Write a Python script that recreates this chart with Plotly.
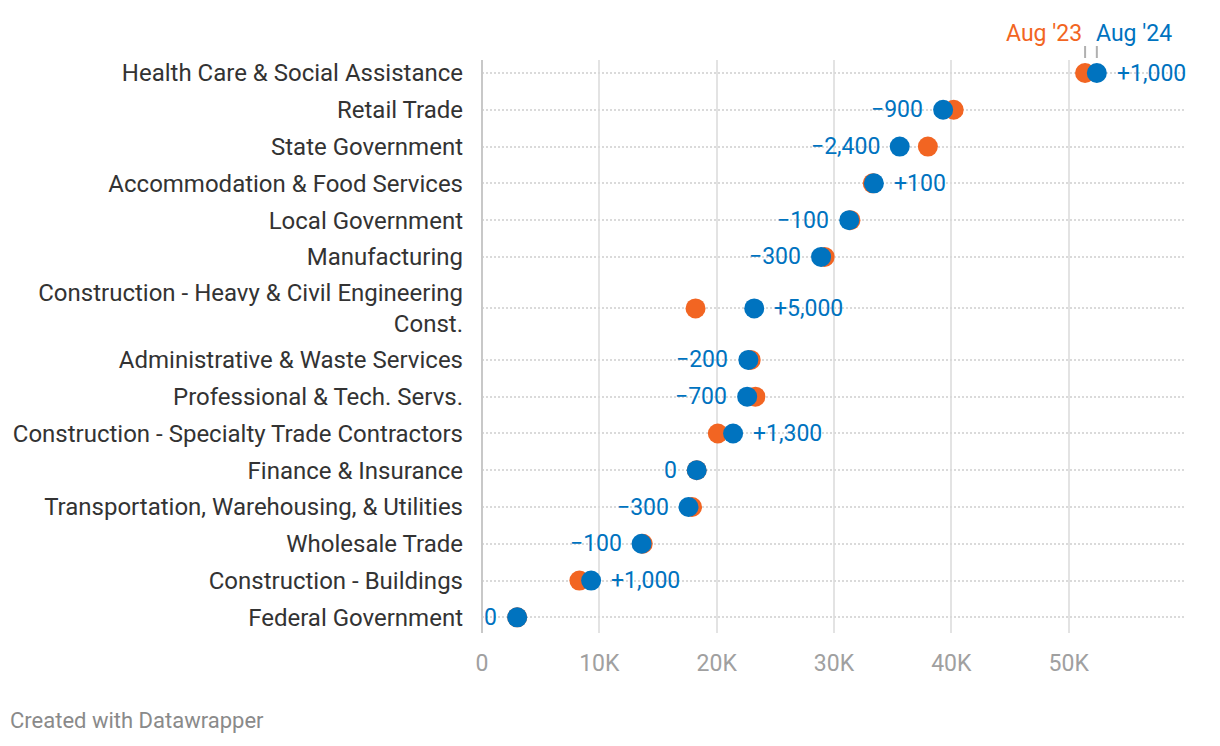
import plotly.graph_objects as go

# ---------------- data ----------------
categories = [
    "Health Care & Social Assistance",
    "Retail Trade",
    "State Government",
    "Accommodation & Food Services",
    "Local Government",
    "Manufacturing",
    "Construction - Heavy & Civil Engineering<br>Const.",
    "Administrative & Waste Services",
    "Professional & Tech. Servs.",
    "Construction - Specialty Trade Contractors",
    "Finance & Insurance",
    "Transportation, Warehousing, & Utilities",
    "Wholesale Trade",
    "Construction - Buildings",
    "Federal Government",
]
aug23 = [51400, 40200, 38000, 33300, 31400, 29200, 18200, 22900, 23300, 20100, 18300, 17900, 13700, 8300, 3000]
aug24 = [52400, 39300, 35600, 33400, 31300, 28900, 23200, 22700, 22600, 21400, 18300, 17600, 13600, 9300, 3000]
changes = [1000, -900, -2400, 100, -100, -300, 5000, -200, -700, 1300, 0, -300, -100, 1000, 0]
series_names = ["Aug '23", "Aug '24"]
x_tickvals = [0, 10000, 20000, 30000, 40000, 50000]
x_ticktext = ["0", "10K", "20K", "30K", "40K", "50K"]

# ---------------- style ----------------
ORANGE = "#f26522"
BLUE = "#0073bf"
FONT = "Roboto"

W, H = 1220, 746

# row positions derived from number of label lines (two-line rows are taller)
ypos = []
cur = 0.0
for c in categories:
    lines = c.count("<br>") + 1
    h = 1 + 0.8 * (lines - 1)
    ypos.append(cur + h / 2)
    cur += h

PLOT_T = 60
PLOT_B = H - 633
PLOT_L = 482
PLOT_R = W - 1186
plot_h = H - PLOT_T - PLOT_B
plot_w = W - PLOT_L - PLOT_R
top = ypos[0] - 0.354
px_per_unit = 36.78
bottom = top + plot_h / px_per_unit


def fmt(v):
    if v == 0:
        return "0"
    s = f"{v:+,}"
    return s.replace("-", "\u2212")


def py(px):
    """pixel y -> paper coordinate"""
    return (H - PLOT_B - px) / plot_h


def pxx(px):
    """pixel x -> paper coordinate"""
    return (px - PLOT_L) / plot_w


fig = go.Figure()
fig.add_trace(go.Scatter(
    x=aug23, y=ypos, mode="markers", name=series_names[0],
    marker=dict(color=ORANGE, size=20, line=dict(width=0)),
    hoverinfo="skip", cliponaxis=False,
))
fig.add_trace(go.Scatter(
    x=aug24, y=ypos, mode="markers", name=series_names[1],
    marker=dict(color=BLUE, size=20, line=dict(width=0)),
    hoverinfo="skip", cliponaxis=False,
))

annotations = []
for a, b, c, y in zip(aug23, aug24, changes, ypos):
    if c > 0:
        annotations.append(dict(x=max(a, b), y=y, xref="x", yref="y", text=fmt(c),
                                showarrow=False, xanchor="left", xshift=18,
                                font=dict(family=FONT, size=23, color=BLUE)))
    else:
        annotations.append(dict(x=min(a, b), y=y, xref="x", yref="y", text=fmt(c),
                                showarrow=False, xanchor="right", xshift=-18,
                                font=dict(family=FONT, size=23, color=BLUE)))

annotations.append(dict(x=aug23[0], y=py(34), xref="x", yref="paper", text=series_names[0],
                        showarrow=False, xanchor="right", yanchor="middle", xshift=-1,
                        font=dict(family=FONT, size=23, color=ORANGE)))
annotations.append(dict(x=aug24[0], y=py(34), xref="x", yref="paper", text=series_names[1],
                        showarrow=False, xanchor="left", yanchor="middle", xshift=-3,
                        font=dict(family=FONT, size=23, color=BLUE)))
annotations.append(dict(x=pxx(8), y=py(720), xref="paper", yref="paper",
                        text="Created with Datawrapper", showarrow=False,
                        xanchor="left", yanchor="middle",
                        font=dict(family=FONT, size=22, color="#8a8a8a")))

shapes = []
for xv in (aug23[0], aug24[0]):
    shapes.append(dict(type="line", xref="x", yref="paper", x0=xv, x1=xv,
                       y0=py(58), y1=py(46), line=dict(color="#b0b0b0", width=2)))

fig.update_layout(
    width=W, height=H,
    margin=dict(l=PLOT_L, r=PLOT_R, t=PLOT_T, b=PLOT_B, pad=0),
    paper_bgcolor="white", plot_bgcolor="white",
    showlegend=False,
    font=dict(family=FONT, color="#333333"),
    annotations=annotations,
    shapes=shapes,
    xaxis=dict(
        range=[0, 60000], tickvals=x_tickvals, ticktext=x_ticktext,
        showgrid=True, gridcolor="#e3e3e3", gridwidth=2,
        zeroline=True, zerolinecolor="#c8c8c8", zerolinewidth=2,
        showline=False, ticks="", ticklabelstandoff=14,
        tickfont=dict(family=FONT, size=23, color="#a0a0a0"),
        fixedrange=True,
    ),
    yaxis=dict(
        range=[bottom, top], tickvals=ypos, ticktext=categories,
        showgrid=True, gridcolor="#dadada", gridwidth=2, griddash="2px,2px",
        zeroline=False, showline=False, ticks="", ticklabelstandoff=18,
        tickfont=dict(family=FONT, size=24, color="#333333"),
        fixedrange=True,
    ),
)

fig.write_html(
    "out.html",
    config={"displayModeBar": False, "responsive": False},
    post_script="document.body.style.margin='0';document.body.style.overflow='hidden';",
)
